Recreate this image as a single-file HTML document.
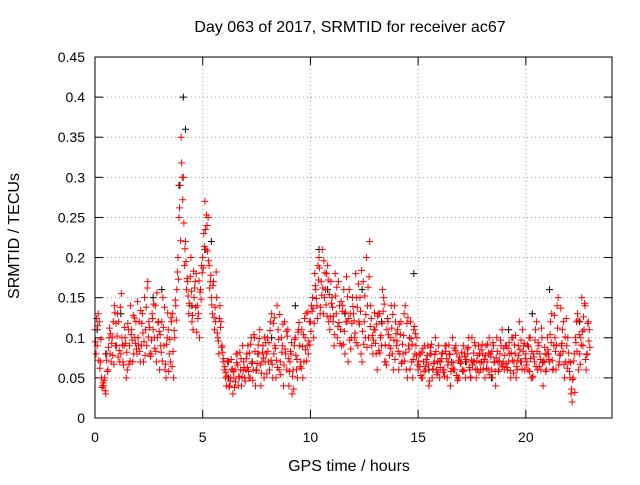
<!DOCTYPE html>
<html><head><meta charset="utf-8"><style>
body{margin:0;background:#fff}
svg text{font-family:"Liberation Sans",sans-serif;font-size:14px;fill:#000}
svg text.big{font-size:16px}
</style></head><body>
<svg id="chart" width="640" height="480">
<text class="big" x="350" y="32" text-anchor="middle">Day 063 of 2017, SRMTID for receiver ac67</text>
<text class="big" x="349" y="471" text-anchor="middle">GPS time / hours</text>
<text class="big" transform="translate(19,236) rotate(-90)" text-anchor="middle">SRMTID / TECUs</text>
<g id="grid"></g><g id="marks"></g>
<rect x="95" y="57" width="517" height="361" fill="none" stroke="#000"/>
</svg>
<script>
const xTicks=[0,5,10,15,20];
const yTicks=[0,0.05,0.1,0.15,0.2,0.25,0.3,0.35,0.4,0.45];
const yTickLabels=["0","0.05","0.1","0.15","0.2","0.25","0.3","0.35","0.4","0.45"];
const seriesAStart=0, seriesStep=0.1;
const seriesA=[.11,.09,.12,.05,.04,.03,.06,.08,.10,.14,.09,.12,.08,.07,.10,.06,.09,.11,.08,.12,.10,.07,.13,.15,.09,.12,.08,.11,.14,.10,.06,.12,.09,.05,.11,.07,.13,.10,.16,.25,.35,.30,.22,.17,.14,.12,.15,.18,.13,.16,.20,.27,.24,.19,.15,.17,.12,.10,.14,.09,.06,.04,.07,.05,.03,.06,.08,.05,.04,.07,.06,.09,.05,.07,.10,.06,.08,.04,.09,.07,.10,.06,.13,.08,.05,.11,.07,.09,.12,.06,.04,.08,.06,.10,.05,.09,.11,.07,.13,.08,.12,.15,.18,.14,.20,.17,.13,.16,.19,.11,.15,.09,.13,.17,.11,.14,.08,.12,.16,.10,.13,.18,.09,.15,.07,.12,.20,.10,.14,.08,.11,.06,.13,.09,.15,.07,.12,.10,.08,.14,.09,.06,.12,.08,.14,.05,.10,.07,.11,.09,.06,.08,.05,.09,.07,.04,.08,.06,.10,.07,.05,.08,.06,.09,.07,.04,.10,.06,.08,.05,.07,.09,.05,.08,.06,.10,.07,.05,.09,.06,.08,.05,.07,.10,.06,.09,.04,.07,.08,.11,.06,.09,.07,.05,.10,.08,.06,.12,.07,.09,.08,.06,.10,.05,.07,.12,.09,.06,.04,.08,.10,.07,.13,.09,.06,.15,.08,.11,.05,.09,.07,.03,.05,.10,.13,.08,.15,.11,.06,.12];
const seriesB=[.08,.13,.07,.04,.05,.08,.10,.07,.12,.09,.13,.07,.10,.09,.05,.11,.14,.07,.10,.08,.12,.09,.07,.11,.17,.08,.13,.10,.07,.12,.09,.15,.06,.10,.08,.12,.05,.14,.20,.29,.30,.19,.16,.13,.20,.11,.17,.14,.10,.19,.23,.21,.25,.17,.13,.11,.15,.08,.12,.07,.05,.07,.04,.06,.05,.08,.04,.06,.09,.05,.08,.05,.10,.06,.04,.08,.11,.07,.05,.08,.07,.12,.05,.09,.14,.06,.10,.04,.08,.11,.07,.03,.09,.06,.11,.07,.05,.10,.09,.12,.14,.10,.16,.19,.13,.21,.15,.18,.12,.17,.12,.18,.10,.14,.09,.16,.12,.07,.13,.15,.10,.15,.12,.08,.17,.10,.14,.22,.09,.11,.08,.13,.10,.16,.07,.11,.09,.14,.06,.12,.11,.08,.07,.13,.06,.09,.12,.05,.08,.10,.08,.05,.07,.06,.09,.08,.05,.07,.06,.09,.07,.06,.09,.05,.08,.07,.06,.09,.05,.07,.06,.08,.07,.10,.05,.07,.09,.06,.08,.07,.07,.09,.06,.08,.05,.07,.10,.06,.09,.07,.09,.06,.08,.10,.07,.05,.09,.07,.11,.06,.07,.10,.05,.08,.11,.06,.08,.10,.07,.06,.08,.12,.06,.10,.14,.07,.09,.12,.07,.10,.05,.02,.08,.12,.06,.10,.09,.14,.08,.11];
const seriesC=[.095,.115,.062,.038,.047,.072,.088,.105,.078,.131,.102,.084,.155,.066,.093,.118,.071,.097,.125,.086,.091,.134,.106,.078,.162,.113,.097,.142,.083,.119,.104,.071,.138,.092,.058,.125,.083,.147,.182,.262,.318,.243,.195,.152,.176,.128,.162,.107,.171,.148,.187,.235,.208,.162,.141,.125,.182,.096,.113,.082,.064,.052,.039,.073,.058,.045,.066,.082,.051,.063,.074,.058,.092,.047,.083,.068,.099,.056,.075,.094,.083,.109,.067,.125,.072,.098,.054,.117,.086,.102,.058,.094,.036,.078,.107,.064,.089,.124,.071,.096,.108,.137,.165,.124,.187,.153,.196,.141,.172,.126,.138,.104,.163,.119,.145,.092,.132,.151,.097,.118,.121,.094,.167,.133,.108,.152,.088,.176,.124,.097,.093,.127,.081,.118,.142,.066,.104,.087,.129,.073,.096,.117,.068,.103,.082,.125,.061,.092,.114,.078,.071,.053,.087,.064,.078,.046,.092,.068,.083,.057,.063,.081,.052,.074,.091,.058,.069,.084,.047,.076,.082,.059,.073,.088,.051,.066,.094,.071,.057,.085,.061,.078,.092,.054,.083,.069,.075,.058,.097,.064,.078,.063,.094,.081,.056,.103,.072,.085,.061,.093,.066,.089,.074,.052,.097,.083,.064,.112,.071,.058,.085,.104,.072,.128,.091,.066,.137,.083,.101,.062,.058,.036,.071,.094,.122,.067,.108,.143,.079,.096];
const seriesD=[.124,.072,.098,.044,.034,.058,.112,.093,.067,.118,.076,.138,.091,.113,.082,.067,.104,.128,.093,.145,.083,.118,.095,.138,.101,.077,.124,.087,.156,.108,.082,.113,.067,.131,.098,.064,.109,.122,.173,.221,.272,.211,.174,.143,.158,.183,.138,.124,.157,.181,.214,.253,.196,.178,.165,.138,.106,.124,.088,.074,.057,.071,.046,.061,.038,.069,.052,.074,.059,.046,.063,.081,.068,.104,.059,.091,.066,.082,.101,.055,.094,.072,.118,.087,.063,.129,.082,.066,.108,.074,.083,.052,.098,.073,.119,.062,.104,.085,.132,.091,.133,.118,.149,.172,.138,.162,.181,.127,.154,.143,.127,.152,.114,.093,.133,.108,.176,.124,.086,.139,.106,.138,.117,.184,.092,.129,.163,.114,.103,.131,.117,.084,.103,.133,.091,.124,.078,.112,.097,.105,.083,.104,.092,.071,.118,.086,.099,.073,.105,.066,.064,.082,.058,.073,.066,.088,.061,.079,.054,.071,.074,.057,.083,.066,.079,.062,.087,.053,.072,.068,.058,.077,.086,.063,.072,.081,.061,.078,.069,.092,.073,.062,.081,.076,.094,.058,.083,.071,.066,.087,.068,.087,.059,.072,.091,.064,.078,.097,.083,.074,.091,.058,.083,.076,.064,.094,.073,.069,.088,.079,.073,.094,.061,.083,.112,.078,.093,.067,.124,.081,.069,.048,.032,.083,.104,.091,.126,.073,.118,.088];
const blackTimes=[0.1,0.5,1.2,2.7,3.1,3.9,4.1,4.2,4.5,5.1,5.4,6.2,7.3,8.2,9.3,10.4,10.8,11.6,12.4,13.3,14.8,15.5,17.2,18.4,19.2,20.3,21.1,22.5];
const blackValues=[.11,.08,.13,.15,.16,.29,.40,.36,.14,.21,.22,.05,.07,.10,.14,.21,.16,.13,.16,.12,.18,.06,.07,.05,.11,.13,.16,.12];
const X0=95,X1=612,XMAX=24,Y0=418,Y1=57,YMAX=0.45;
const xs=t=>X0+t/XMAX*(X1-X0);
const ys=v=>Y0-v/YMAX*(Y0-Y1);
const NS="http://www.w3.org/2000/svg";
const grid=document.getElementById('grid'),marks=document.getElementById('marks');
function mk(tag,at,parent){const e=document.createElementNS(NS,tag);for(const k in at)e.setAttribute(k,at[k]);parent.appendChild(e);return e;}
yTicks.forEach((v,i)=>{const y=ys(v);
 if(i>0&&i<yTicks.length-1){const g=mk('line',{x1:X0,x2:X1,y1:y,y2:y,stroke:'#a0a0a0','stroke-dasharray':'1,3'},grid);
 
 }
 mk('line',{x1:X0,x2:X0+8,y1:y,y2:y,stroke:'#000'},grid);mk('line',{x1:X1,x2:X1-8,y1:y,y2:y,stroke:'#000'},grid);
 const t=mk('text',{x:X0-10,y:y+5,'text-anchor':'end'},grid);t.textContent=yTickLabels[i];
 
 });
xTicks.forEach(v=>{const x=xs(v);
 if(v>0){const g=mk('line',{x1:x,x2:x,y1:Y0,y2:Y1,stroke:'#a0a0a0','stroke-dasharray':'1,3'},grid);
 
 }
 mk('line',{x1:x,x2:x,y1:Y0,y2:Y0-8,stroke:'#000'},grid);mk('line',{x1:x,x2:x,y1:Y1,y2:Y1+8,stroke:'#000'},grid);
 const t=mk('text',{x:x,y:Y0+24,'text-anchor':'middle'},grid);t.textContent=String(v);
 
 });
function plus(t,v,c,name){const x=xs(t),y=ys(v);
 const p=mk('path',{d:`M${x-3.5},${y}h7M${x},${y-3.5}v7`,stroke:c,'stroke-width':1},marks);
 
 }
blackValues.forEach((v,i)=>plus(blackTimes[i],v,'#000','black-point'));
seriesA.forEach((v,i)=>plus(seriesAStart+i*seriesStep,v,'#f00','red-point'));
seriesB.forEach((v,i)=>plus(seriesAStart+i*seriesStep+0.05,v,'#f00','red-point'));
seriesC.forEach((v,i)=>plus(seriesAStart+i*seriesStep+0.025,v,'#f00','red-point'));
seriesD.forEach((v,i)=>plus(seriesAStart+i*seriesStep+0.075,v,'#f00','red-point'));
</script>
</body></html>
